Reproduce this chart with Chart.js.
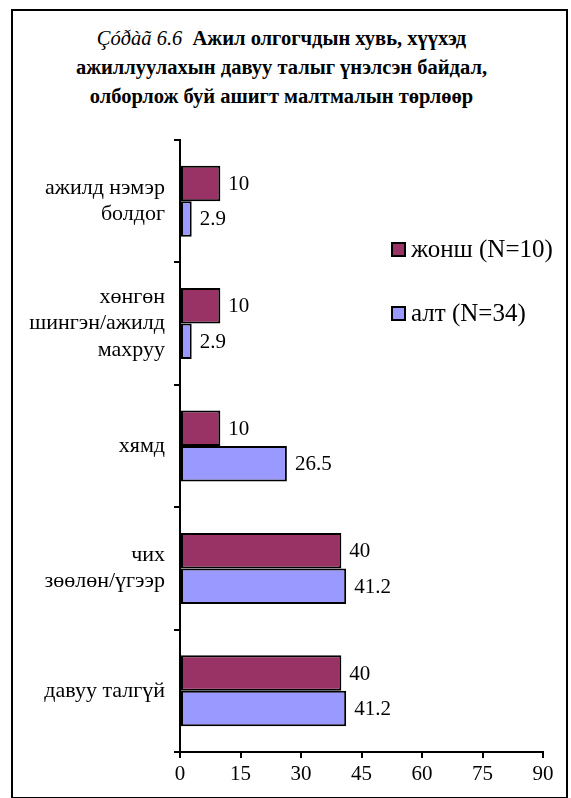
<!DOCTYPE html>
<html>
<head>
<meta charset="utf-8">
<script src="https://cdn.jsdelivr.net/npm/chart.js@4/dist/chart.umd.min.js"></script>
<style>
  html, body { margin: 0; padding: 0; background: #fff; font-family: 'Liberation Serif'; }
  #wrap { position: relative; width: 571px; height: 798px; overflow: hidden; }
  #frame { position: absolute; left: 11px; top: 9px; width: 557px; height: 790px; border: 2px solid #000; box-sizing: border-box; }
  #title { position: absolute; left: 0; top: 24px; width: 563px; text-align: center;
           font-family: 'Liberation Serif'; font-size: 20.5px; font-weight: bold;
           line-height: 29px; color: #000; }
  #title i { font-weight: normal; }
  canvas { position: absolute; left: 0; top: 0; }
</style>
</head>
<body>
<div id="wrap">
  <div id="frame"></div>
  <div id="title"><i>Çóðàã 6.6</i>&nbsp; Ажил олгогчдын хувь, хүүхэд<br>ажиллуулахын давуу талыг үнэлсэн байдал,<br>олборлож буй ашигт малтмалын төрлөөр</div>
  <canvas id="c" width="571" height="798"></canvas>
</div>
<script>
const categories = [
  ["ажилд нэмэр", "болдог"],
  ["хөнгөн", "шингэн/ажилд", "махруу"],
  ["хямд"],
  ["чих", "зөөлөн/үгээр"],
  ["давуу талгүй"]
];
const seriesNames = ["жонш (N=10)", "алт (N=34)"];
const jonsh = [10, 10, 10, 40, 40];
const alt = [2.9, 2.9, 26.5, 41.2, 41.2];
const xTicks = [0, 15, 30, 45, 60, 75, 90];

const FONT = "'Liberation Serif'";
Chart.defaults.font.family = FONT;

const valueLabels = {
  id: 'valueLabels',
  afterDatasetsDraw(chart) {
    const ctx = chart.ctx;
    ctx.save();
    ctx.font = '21px ' + FONT;
    ctx.fillStyle = '#000';
    ctx.textAlign = 'left';
    ctx.textBaseline = 'middle';
    chart.data.datasets.forEach((ds, i) => {
      chart.getDatasetMeta(i).data.forEach((bar, j) => {
        ctx.fillText(String(ds.data[j]), bar.x + 8, bar.y + 1);
      });
    });
    ctx.restore();
  }
};

const customLegend = {
  id: 'customLegend',
  afterDraw(chart) {
    const ctx = chart.ctx;
    ctx.save();
    ctx.font = '25px ' + FONT;
    ctx.textBaseline = 'middle';
    ctx.textAlign = 'left';
    const ys = [250, 314];
    chart.data.datasets.forEach((ds, i) => {
      const y = ys[i];
      ctx.fillStyle = ds.backgroundColor;
      ctx.fillRect(392, y - 7, 13, 13);
      ctx.lineWidth = 2;
      ctx.strokeStyle = '#000';
      ctx.strokeRect(392, y - 7, 13, 13);
      ctx.fillStyle = '#000';
      ctx.fillText(ds.label, 411, y);
    });
    ctx.restore();
  }
};

function draw() {
new Chart(document.getElementById('c'), {
  type: 'bar',
  data: {
    labels: categories,
    datasets: [
      { label: seriesNames[0], data: jonsh, backgroundColor: '#993366', borderColor: '#000', borderWidth: 2, borderSkipped: false,
        categoryPercentage: 0.58, barPercentage: 1.0 },
      { label: seriesNames[1], data: alt, backgroundColor: '#9999FF', borderColor: '#000', borderWidth: 2, borderSkipped: false,
        categoryPercentage: 0.58, barPercentage: 1.0 }
    ]
  },
  options: {
    indexAxis: 'y',
    responsive: false,
    animation: false,
    layout: { padding: { left: 0, right: 28, top: 140, bottom: 0 } },
    plugins: {
      legend: { display: false },
      title: { display: false },
      tooltip: { enabled: false }
    },
    scales: {
      x: {
        min: 0, max: 90,
        afterBuildTicks(scale) { scale.ticks = xTicks.map(v => ({ value: v })); },
        afterFit(scale) { scale.height = 46; },
        ticks: { color: '#000', font: { family: FONT, size: 21, lineHeight: 1.2 }, padding: 4, maxRotation: 0 },
        grid: { display: true, drawOnChartArea: false, drawTicks: true, tickLength: 6, color: '#000', lineWidth: 2 },
        border: { display: true, color: '#000', width: 2 }
      },
      y: {
        afterFit(scale) { scale.width = 180; },
        ticks: { color: '#000', font: { family: FONT, size: 22, lineHeight: 1.2 }, padding: 9 },
        grid: { display: true, offset: true, drawOnChartArea: false, drawTicks: true, tickLength: 6, color: '#000', lineWidth: 2 },
        border: { display: true, color: '#000', width: 2 }
      }
    }
  },
  plugins: [valueLabels, customLegend]
});
}
if (document.fonts && document.fonts.load) {
  document.fonts.load("17px 'Liberation Serif'").then(draw, draw);
} else { draw(); }
</script>
</body>
</html>
